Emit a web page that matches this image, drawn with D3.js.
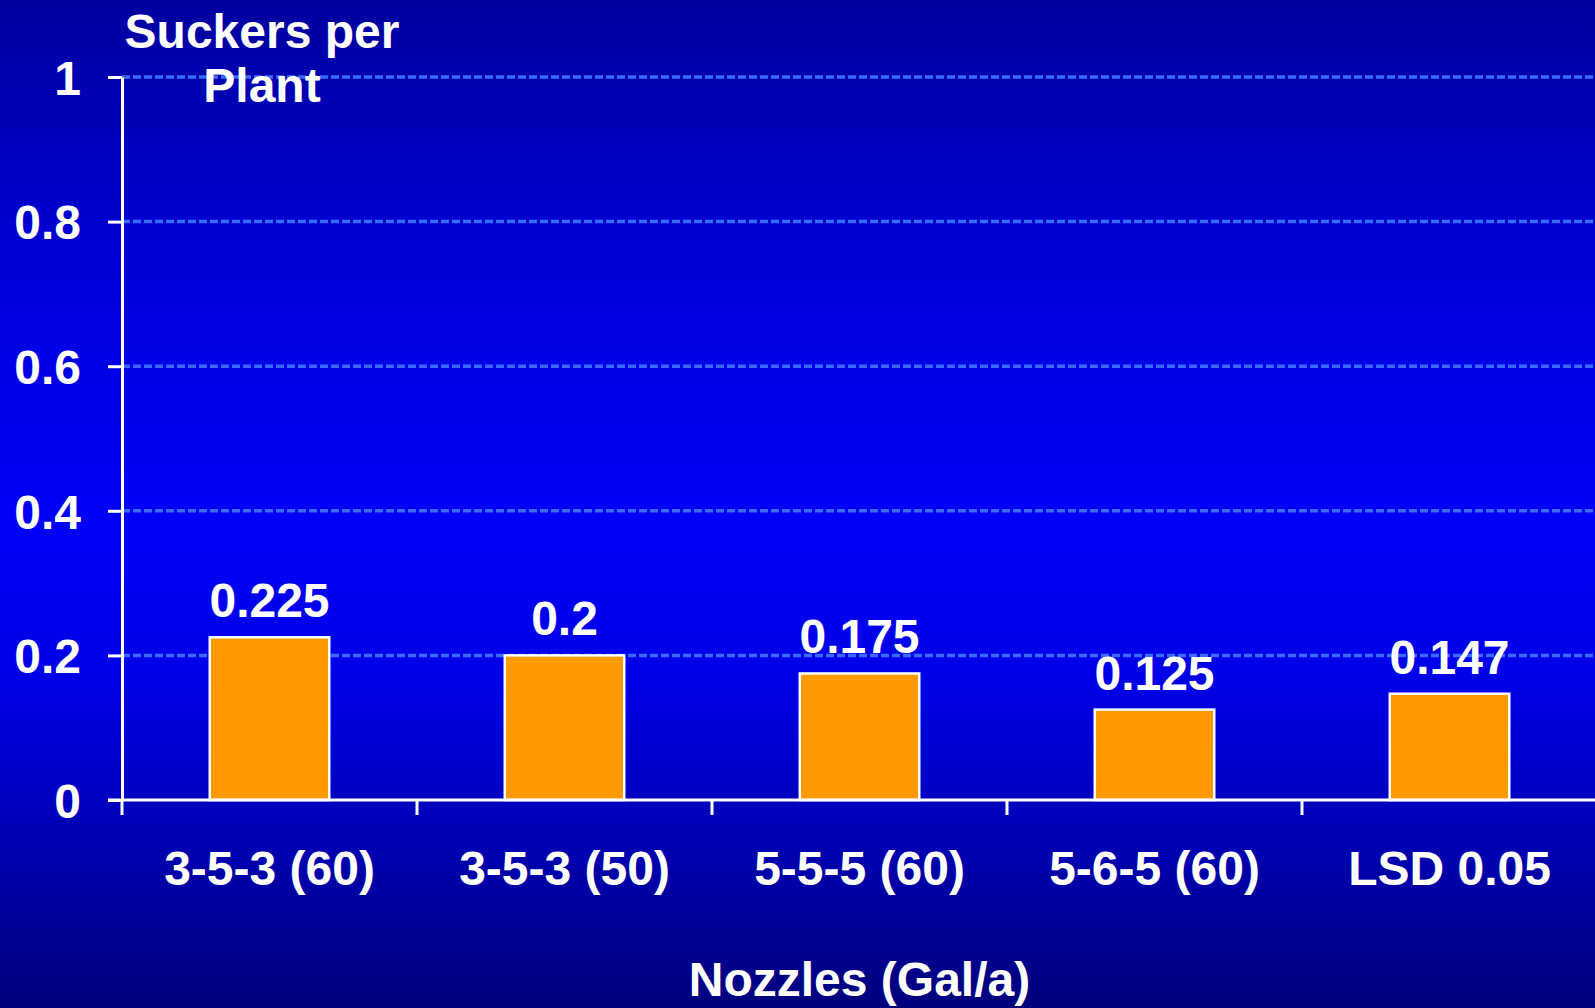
<!DOCTYPE html>
<html>
<head>
<meta charset="utf-8">
<script src="https://cdn.jsdelivr.net/npm/d3@7"></script>
<style>
  html, body { margin: 0; padding: 0; overflow: hidden; }
  svg { display: block; }
</style>
</head>
<body>
<div id="chart"></div>
<script>
// data
const nozzles = ["3-5-3 (60)", "3-5-3 (50)", "5-5-5 (60)", "5-6-5 (60)", "LSD 0.05"];
const suckers = [0.225, 0.2, 0.175, 0.125, 0.147];
const valueLabels = ["0.225", "0.2", "0.175", "0.125", "0.147"];
const yTicks = [0, 0.2, 0.4, 0.6, 0.8, 1];
const yTickLabels = ["0", "0.2", "0.4", "0.6", "0.8", "1"];

const W = 1595, H = 1008;
const font = "'Liberation Sans', Arial, sans-serif";
const fontSize = "48px";
const barColor = "#FF9900";
const gridColor = "#3A6BFF";

const svg = d3.select("#chart")
  .append("svg")
  .attr("width", W)
  .attr("height", H);

// background gradient
const grad = svg.append("defs").append("linearGradient")
  .attr("id", "bg")
  .attr("x1", 0).attr("y1", 0).attr("x2", 0).attr("y2", 1);
grad.append("stop").attr("offset", "0%").attr("stop-color", "#00009E");
grad.append("stop").attr("offset", "28%").attr("stop-color", "#0000DC");
grad.append("stop").attr("offset", "52%").attr("stop-color", "#0000F8");
grad.append("stop").attr("offset", "68%").attr("stop-color", "#0000E6");
grad.append("stop").attr("offset", "100%").attr("stop-color", "#00007C");
svg.append("rect").attr("width", W).attr("height", H).attr("fill", "url(#bg)");

// scales
const x = d3.scaleBand()
  .domain(nozzles)
  .range([122, 1597])
  .padding(0);

const y = d3.scaleLinear()
  .domain([0, 1])
  .range([800, 77]);

const barW = x.bandwidth() * 0.405;

// grid lines
svg.append("g")
  .selectAll("line")
  .data(yTicks.filter(d => d > 0))
  .enter()
  .append("line")
  .attr("x1", 122)
  .attr("x2", W)
  .attr("y1", d => y(d))
  .attr("y2", d => y(d))
  .attr("stroke", gridColor)
  .attr("stroke-width", 3.5)
  .attr("stroke-dasharray", "8,3");

// bars
svg.append("g")
  .selectAll("rect")
  .data(nozzles)
  .enter()
  .append("rect")
  .attr("x", d => x(d) + (x.bandwidth() - barW) / 2)
  .attr("y", (d, i) => y(suckers[i]))
  .attr("width", barW)
  .attr("height", (d, i) => y(0) - y(suckers[i]))
  .attr("fill", barColor)
  .attr("stroke", "white")
  .attr("stroke-width", 2.5);

// value labels
svg.append("g")
  .selectAll("text")
  .data(nozzles)
  .enter()
  .append("text")
  .attr("x", d => x(d) + x.bandwidth() / 2)
  .attr("y", (d, i) => y(suckers[i]) - 20)
  .attr("text-anchor", "middle")
  .attr("fill", "white")
  .style("font-family", font)
  .style("font-weight", "bold")
  .style("font-size", fontSize)
  .text((d, i) => valueLabels[i]);

// Y axis
const yAxis = svg.append("g")
  .attr("transform", "translate(122,0)")
  .call(d3.axisLeft(y)
    .tickValues(yTicks)
    .tickFormat((d, i) => yTickLabels[i])
    .tickSize(14)
    .tickSizeOuter(0)
    .tickPadding(27));
yAxis.select(".domain").attr("stroke", "white").attr("stroke-width", 3);
yAxis.selectAll(".tick line").attr("stroke", "white").attr("stroke-width", 3);
yAxis.selectAll("text")
  .attr("fill", "white")
  .attr("dy", "0.36em")
  .style("font-family", font)
  .style("font-weight", "bold")
  .style("font-size", fontSize);

// X axis
const xAxis = svg.append("g")
  .attr("transform", "translate(0,800)")
  .call(d3.axisBottom(x).tickSize(0).tickSizeOuter(0).tickPadding(51));
xAxis.select(".domain").remove();
xAxis.selectAll("text")
  .attr("fill", "white")
  .attr("dy", "0.71em")
  .style("font-family", font)
  .style("font-weight", "bold")
  .style("font-size", fontSize);

svg.append("line")
  .attr("x1", 108).attr("x2", W)
  .attr("y1", y(0)).attr("y2", y(0))
  .attr("stroke", "white")
  .attr("stroke-width", 3);

// ticks between categories
svg.append("g")
  .selectAll("line")
  .data(nozzles)
  .enter()
  .append("line")
  .attr("x1", d => x(d))
  .attr("x2", d => x(d))
  .attr("y1", y(0))
  .attr("y2", y(0) + 15)
  .attr("stroke", "white")
  .attr("stroke-width", 3);

// axis titles
const yTitle = svg.append("text")
  .attr("text-anchor", "middle")
  .attr("fill", "white")
  .style("font-family", font)
  .style("font-weight", "bold")
  .style("font-size", fontSize);
yTitle.append("tspan").attr("x", 262).attr("y", 48).text("Suckers per");
yTitle.append("tspan").attr("x", 262).attr("y", 102).text("Plant");

svg.append("text")
  .attr("x", (x.range()[0] + x.range()[1]) / 2)
  .attr("y", 996)
  .attr("text-anchor", "middle")
  .attr("fill", "white")
  .style("font-family", font)
  .style("font-weight", "bold")
  .style("font-size", fontSize)
  .text("Nozzles (Gal/a)");
</script>
</body>
</html>
